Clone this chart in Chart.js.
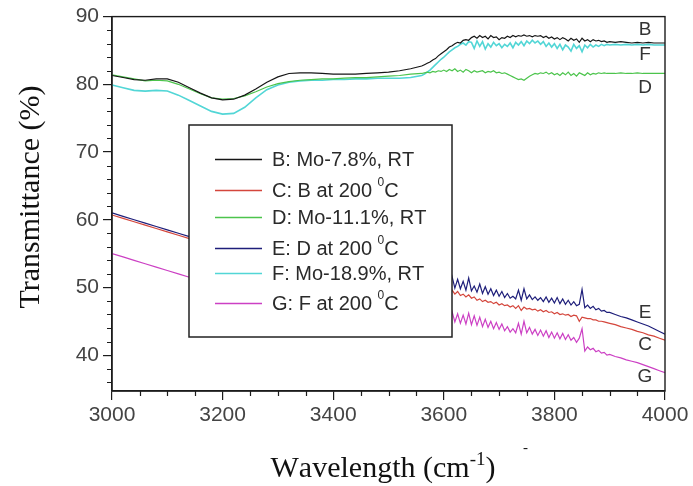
<!DOCTYPE html>
<html>
<head>
<meta charset="utf-8">
<script src="https://cdn.jsdelivr.net/npm/chart.js@4.4.1/dist/chart.umd.min.js"></script>
<style>
  html, body { margin: 0; padding: 0; background: #fff; }
  #wrap { width: 693px; height: 486px; }
</style>
</head>
<body>
<div id="wrap"><canvas id="ftir"></canvas></div>
<script>
// wavenumber grid (cm-1): coarse on the smooth part, fine where the spectra get noisy
const wavenumbers = [
  3000, 3020, 3040, 3060, 3080, 3100, 3120, 3140, 3160, 3180,
  3200, 3220, 3240, 3260, 3280, 3300, 3320, 3340, 3360, 3380,
  3400, 3420, 3440, 3460, 3480, 3500, 3520, 3540, 3560,
  3565, 3570, 3575, 3580, 3585, 3590, 3595, 3600, 3605, 3610,
  3615, 3620, 3625, 3630, 3635, 3640, 3645, 3650, 3655, 3660,
  3665, 3670, 3675, 3680, 3685, 3690, 3695, 3700, 3705, 3710,
  3715, 3720, 3725, 3730, 3735, 3740, 3745, 3750, 3755, 3760,
  3765, 3770, 3775, 3780, 3785, 3790, 3795, 3800, 3805, 3810,
  3815, 3820, 3825, 3830, 3835, 3840, 3845, 3850, 3855, 3860,
  3865, 3870, 3875, 3880, 3885, 3890, 3895, 3900,
  3910, 3920, 3930, 3940, 3950, 3960, 3970, 3980, 3990, 4000
];

const seriesB = [
  81.3, 81.0, 80.7, 80.6, 80.8, 80.8, 80.3, 79.5, 78.7, 78.0,
  77.7, 77.8, 78.4, 79.3, 80.3, 81.1, 81.6, 81.7, 81.7, 81.6,
  81.5, 81.5, 81.5, 81.6, 81.7, 81.8, 82.0, 82.3, 82.7,
  82.9, 83.1, 83.3, 83.6, 83.8, 84.2, 84.5, 84.8, 85.1, 85.5,
  85.7, 86.0, 86.2, 86.1, 86.5, 86.6, 86.5, 86.9, 87.1, 86.8,
  87.2, 86.9, 87.1, 86.7, 87.2, 86.9, 87.0, 86.6, 86.9, 86.8,
  87.1, 86.9, 87.2, 87.0, 87.2, 87.1, 87.3, 87.1, 87.2, 87.0,
  87.2, 87.1, 87.2, 86.9, 87.1, 86.8, 87.0, 86.7, 86.9, 86.6,
  86.9, 86.7, 86.4, 86.8, 86.5, 86.7, 86.2, 86.8, 86.4, 86.6,
  86.3, 86.6, 86.4, 86.5, 86.3, 86.4, 86.2, 86.3,
  86.2, 86.3, 86.2, 86.1, 86.2, 86.1, 86.2, 86.1, 86.1, 86.1
];

const seriesC = [
  60.7, 60.2, 59.7, 59.2, 58.7, 58.2, 57.7, 57.2, 56.8, 56.4,
  56.0, 55.6, 55.2, 54.8, 54.4, 54.0, 53.6, 53.2, 52.9, 52.6,
  52.2, 51.9, 51.6, 51.3, 51.0, 50.7, 50.4, 50.1, 49.8,
  49.7, 49.6, 49.6, 49.5, 49.4, 49.4, 49.3, 49.2, 49.2, 49.1,
  49.6, 49.0, 49.4, 48.8, 49.0, 48.6, 48.9, 48.4, 48.6, 48.1,
  48.3, 47.9, 48.1, 47.8, 47.9, 47.6, 47.8, 47.4, 47.6, 47.3,
  47.4, 47.1, 47.3, 46.9, 47.3, 46.6, 47.1, 46.8, 46.9, 46.7,
  46.8, 46.5, 46.7, 46.4, 46.6, 46.3, 46.4, 46.1, 46.3, 46.0,
  46.1, 45.9, 46.0, 45.7, 45.9, 45.8, 45.0, 45.6, 45.5, 45.4,
  45.4, 45.2, 45.2, 45.0, 45.0, 44.9, 44.8, 44.7,
  44.5, 44.2, 44.0, 43.8, 43.5, 43.3, 43.0, 42.8, 42.5, 42.2
];

const seriesD = [
  81.4, 81.1, 80.8, 80.5, 80.6, 80.5, 80.0, 79.3, 78.6, 78.0,
  77.8, 77.9, 78.3, 78.9, 79.6, 80.1, 80.4, 80.6, 80.7, 80.8,
  80.8, 80.9, 81.0, 81.0, 81.1, 81.2, 81.3, 81.5, 81.6,
  81.7, 81.8, 81.7, 81.9, 81.8, 82.0, 81.9, 82.1, 81.9, 82.2,
  82.0, 82.3, 81.9, 82.1, 81.8, 82.2, 82.0, 81.7, 82.0, 81.8,
  81.9, 82.0, 81.7, 81.9, 81.8, 82.0, 81.7, 81.8, 81.6, 81.7,
  81.5, 81.3, 81.1, 80.9, 80.7, 80.8, 80.6, 80.9, 81.2, 81.4,
  81.6, 81.5, 81.7, 81.6, 81.8, 81.5, 81.7, 81.4, 81.6, 81.3,
  81.7, 81.4, 81.8, 81.3, 81.6, 81.2, 81.7, 81.5, 81.3, 81.7,
  81.4, 81.6, 81.5, 81.7, 81.6, 81.7, 81.6, 81.6,
  81.6, 81.7, 81.6, 81.6, 81.7, 81.6, 81.6, 81.6, 81.6, 81.6
];

const seriesE = [
  61.0, 60.5, 60.0, 59.5, 59.0, 58.5, 58.0, 57.5, 57.1, 56.7,
  56.3, 55.9, 55.5, 55.1, 54.7, 54.3, 53.9, 53.5, 53.2, 52.9,
  52.5, 52.2, 51.9, 51.6, 51.3, 51.1, 50.9, 50.7, 50.5,
  50.4, 50.3, 50.5, 50.2, 50.4, 50.1, 50.3, 50.0, 50.4, 50.1,
  51.6, 49.9, 51.2, 49.8, 50.9, 49.6, 51.4, 49.5, 50.2, 49.3,
  50.5, 49.1, 50.1, 49.0, 49.8, 48.8, 49.6, 48.7, 49.4, 48.5,
  49.1, 48.4, 48.7, 48.3, 49.6, 48.1, 49.8, 48.3, 48.9, 48.2,
  48.6, 48.1, 48.5, 47.9, 48.6, 47.8, 48.4, 47.7, 48.5, 47.6,
  48.3, 47.5, 48.1, 47.4, 47.9, 47.3, 47.5, 49.7, 47.0, 47.4,
  46.9, 47.2, 46.7, 46.9, 46.5, 46.6, 46.3, 46.3,
  46.0, 45.7, 45.5, 45.2, 44.9, 44.6, 44.3, 43.9, 43.5, 43.1
];

const seriesF = [
  79.9, 79.5, 79.1, 79.0, 79.1, 79.0, 78.4, 77.6, 76.8, 76.0,
  75.6, 75.7, 76.6, 78.0, 79.2, 79.9, 80.3, 80.5, 80.6, 80.6,
  80.7, 80.7, 80.8, 80.8, 80.9, 80.9, 80.9, 81.0, 81.3,
  81.5, 81.8, 82.1, 82.5, 82.9, 83.3, 83.7, 84.0, 84.4, 84.8,
  85.1, 85.4, 85.6, 85.9, 86.1, 85.8, 86.3, 86.2, 85.3, 86.4,
  85.6, 86.3, 85.2, 86.0, 85.5, 86.2, 85.7, 86.0, 85.4, 85.9,
  85.6, 86.1, 85.4, 86.2, 85.8, 86.3, 85.7, 86.4, 86.0, 86.5,
  86.1, 86.4, 85.9, 86.3, 85.6, 86.1, 85.5, 86.0, 85.3, 85.9,
  85.1, 85.8, 85.5, 84.9, 85.9, 85.3, 85.7, 84.8, 85.8, 85.4,
  85.9, 85.5, 85.8, 85.6, 85.9, 85.7, 85.9, 85.8,
  85.9, 85.8, 85.9, 85.8, 85.9, 85.8, 85.9, 85.8, 85.8, 85.8
];

const seriesG = [
  55.0, 54.5, 54.0, 53.5, 53.0, 52.5, 52.0, 51.5, 51.1, 50.7,
  50.3, 49.9, 49.5, 49.2, 48.9, 48.6, 48.3, 48.0, 47.7, 47.4,
  47.1, 46.9, 46.7, 46.5, 46.3, 46.1, 45.9, 45.7, 45.5,
  45.4, 45.3, 45.5, 45.2, 45.4, 45.1, 45.3, 45.0, 45.4, 45.0,
  46.4, 44.9, 46.1, 44.7, 45.9, 44.6, 46.2, 44.5, 45.8, 44.4,
  45.6, 44.2, 45.3, 44.1, 45.0, 43.9, 44.8, 43.8, 44.6, 43.6,
  44.2, 43.4, 43.9, 43.3, 44.7, 43.1, 45.0, 43.3, 44.1, 43.1,
  43.8, 42.9, 43.7, 42.8, 43.6, 42.6, 43.4, 42.5, 43.3, 42.4,
  43.2, 42.3, 43.0, 42.2, 42.6, 41.9, 42.5, 43.9, 40.6, 41.2,
  40.8, 41.0, 40.5, 40.7, 40.3, 40.4, 40.0, 40.1,
  39.8, 39.6, 39.3, 39.1, 38.9, 38.6, 38.3, 38.0, 37.7, 37.4
];

const seriesLabels = [
  "B: Mo-7.8%, RT",
  "C: B at 200 \u2070C",
  "D: Mo-11.1%, RT",
  "E: D at 200 \u2070C",
  "F: Mo-18.9%, RT",
  "G: F at 200 \u2070C"
];
const seriesTags = ["B", "C", "D", "E", "F", "G"];
const xTicks = [3000, 3200, 3400, 3600, 3800, 4000];
const yTicks = [40, 50, 60, 70, 80, 90];

const seriesValues = [seriesB, seriesC, seriesD, seriesE, seriesF, seriesG];
const seriesColors = ["#161616", "#d4463c", "#4cc44c", "#1e1e7a", "#52d6d6", "#cc40c4"];

const SANS = "'Liberation Sans', Arial, sans-serif";
const SERIF = "'Liberation Serif', 'Times New Roman', serif";

// superscript characters drawn as small raised glyphs
const SUP = { "\u2070": "0", "\u207B": "-", "\u00B9": "1" };

function drawRich(ctx, text, x, y, font, size, supSize, rise) {
  let cx = x;
  for (const ch of text) {
    if (SUP[ch]) {
      ctx.font = supSize + "px " + font;
      ctx.fillText(SUP[ch], cx, y - rise);
      cx += ctx.measureText(SUP[ch]).width;
    } else {
      ctx.font = size + "px " + font;
      ctx.fillText(ch, cx, y);
      cx += ctx.measureText(ch).width;
    }
  }
  return cx - x;
}

function richWidth(ctx, text, font, size, supSize) {
  let w = 0;
  for (const ch of text) {
    ctx.font = (SUP[ch] ? supSize : size) + "px " + font;
    w += ctx.measureText(SUP[ch] || ch).width;
  }
  return w;
}

const decorations = {
  id: "decorations",
  afterDatasetsDraw(chart) {
    const ctx = chart.ctx;
    const { left, right, top, bottom } = chart.chartArea;
    const xs = chart.scales.x;
    const ys = chart.scales.y;
    ctx.save();

    // frame
    ctx.strokeStyle = "#1c1c1c";
    ctx.lineWidth = 1.4;
    ctx.strokeRect(left, top, right - left, bottom - top);

    // minor ticks
    ctx.lineWidth = 1.2;
    ctx.beginPath();
    for (let v = 3050; v < 4000; v += 50) {
      if (v % 200 === 0) continue;
      const px = Math.round(xs.getPixelForValue(v)) + 0.5;
      ctx.moveTo(px, bottom);
      ctx.lineTo(px, bottom + 5);
    }
    for (let v = 36; v < 90; v += 2) {
      if (v % 10 === 0) continue;
      const py = Math.round(ys.getPixelForValue(v)) + 0.5;
      ctx.moveTo(left - 5, py);
      ctx.lineTo(left, py);
    }
    ctx.stroke();

    // legend box
    const box = { x: 189, y: 125, w: 263, h: 212 };
    const rows = [159, 190, 217, 248, 273, 303];
    ctx.fillStyle = "#fff";
    ctx.fillRect(box.x, box.y, box.w, box.h);
    ctx.strokeStyle = "#222";
    ctx.lineWidth = 1.5;
    ctx.strokeRect(box.x, box.y, box.w, box.h);
    ctx.textBaseline = "middle";
    ctx.textAlign = "left";
    chart.data.datasets.forEach((ds, i) => {
      const ry = rows[i];
      ctx.strokeStyle = ds.borderColor;
      ctx.lineWidth = 1.4;
      ctx.beginPath();
      ctx.moveTo(215, ry + 0.5);
      ctx.lineTo(262, ry + 0.5);
      ctx.stroke();
      ctx.fillStyle = "#2a2a2a";
      drawRich(ctx, ds.label, 272, ry + 1, SANS, 20, 12, 8);
    });

    // series tags at the right end of each curve
    const tagOffsets = [-13, 5, 14, -21, 10, 4];
    ctx.fillStyle = "#333";
    ctx.font = "19px " + SANS;
    ctx.textAlign = "center";
    seriesValues.forEach((vals, i) => {
      const py = ys.getPixelForValue(vals[vals.length - 1]) + tagOffsets[i];
      ctx.fillText(seriesTags[i], right - 20, py);
    });
    ctx.restore();
  },
  afterDraw(chart) {
    const ctx = chart.ctx;
    ctx.save();
    ctx.fillStyle = "#111";

    // y axis title
    ctx.translate(31, 197);
    ctx.rotate(-Math.PI / 2);
    ctx.font = "30px " + SERIF;
    ctx.textAlign = "center";
    ctx.textBaseline = "middle";
    ctx.fillText("Transmittance (%)", 0, 0);
    ctx.setTransform(1, 0, 0, 1, 0, 0);

    // x axis title with superscript
    const xt = "Wavelength (cm\u207B\u00B9)";
    ctx.textAlign = "left";
    ctx.textBaseline = "alphabetic";
    const w = richWidth(ctx, xt, SERIF, 30, 19);
    drawRich(ctx, xt, 383 - w / 2, 477, SERIF, 30, 19, 12);
    ctx.font = "15px " + SERIF;
    ctx.fillText("-", 523, 452);
    ctx.restore();
  }
};

new Chart(document.getElementById("ftir"), {
  type: "line",
  data: {
    datasets: seriesValues.map((vals, i) => ({
      label: seriesLabels[i],
      data: vals.map((v, k) => ({ x: wavenumbers[k], y: v })),
      borderColor: seriesColors[i],
      borderWidth: i === 4 ? 1.6 : 1.2,
      pointRadius: 0,
      tension: 0,
      fill: false
    }))
  },
  options: {
    responsive: true,
    maintainAspectRatio: false,
    animation: false,
    events: [],
    layout: { padding: { top: 14, right: 28, left: 0, bottom: 0 } },
    plugins: {
      legend: { display: false },
      tooltip: { enabled: false }
    },
    scales: {
      x: {
        type: "linear",
        min: 3000,
        max: 4000,
        afterBuildTicks: (s) => { s.ticks = xTicks.map((v) => ({ value: v })); },
        afterFit: (s) => { s.height = 95; },
        grid: { drawOnChartArea: false, tickLength: 9, color: "#1c1c1c", lineWidth: 1.2 },
        border: { color: "#1c1c1c", width: 1.4 },
        ticks: {
          autoSkip: false,
          maxRotation: 0,
          padding: 3,
          color: "#444",
          font: { family: SANS, size: 21 },
          callback: (v) => String(v)
        }
      },
      y: {
        min: 34.7,
        max: 90,
        afterBuildTicks: (s) => { s.ticks = yTicks.map((v) => ({ value: v })); },
        afterFit: (s) => { s.width = 112; },
        grid: { drawOnChartArea: false, tickLength: 9, color: "#1c1c1c", lineWidth: 1.2 },
        border: { color: "#1c1c1c", width: 1.4 },
        ticks: {
          padding: 4,
          color: "#444",
          font: { family: SANS, size: 21 },
          callback: (v) => String(v)
        }
      }
    }
  },
  plugins: [decorations]
});
</script>
</body>
</html>
